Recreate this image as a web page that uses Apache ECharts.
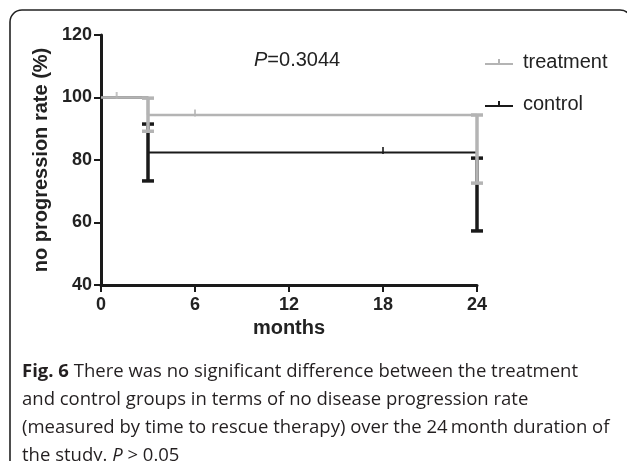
<!DOCTYPE html>
<html>
<head>
<meta charset="utf-8">
<script src="https://cdn.jsdelivr.net/npm/echarts@6/dist/echarts.min.js"></script>
<style>
  html, body { margin: 0; padding: 0; background: #fff; }
  #main { width: 627px; height: 461px; }
</style>
</head>
<body>
<div id="main"></div>
<script>
// step curves: [month, rate]
var treatmentSteps = [[0, 100], [3, 94.4], [24, 94.4]];
var controlSteps = [[0, 100], [3, 82.4], [24, 82.4]];
// censor marks
var treatmentCensor = [[1, 100], [6, 94.4]];
var controlCensor = [[18, 82.4]];
// error bars: [month, low, high]
var treatmentErr = [[3, 89.2, 99.8], [24, 72.6, 94.4]];
var controlErr = [[3, 73.3, 91.5], [24, 57.3, 80.6]];

var xTicks = [0, 6, 12, 18, 24];
var yTicks = [40, 60, 80, 100, 120];

var gray = '#b4b4b4';
var black = '#1a1a1a';

function errRender(color, width) {
    return function (params, api) {
        var x = api.value(0);
        var lo = api.coord([x, api.value(1)]);
        var hi = api.coord([x, api.value(2)]);
        var cap = 6;
        var style = { stroke: color, lineWidth: width };
        return {
            type: 'group',
            children: [
                { type: 'line', shape: { x1: lo[0], y1: lo[1], x2: hi[0], y2: hi[1] }, style: style },
                { type: 'line', shape: { x1: lo[0] - cap, y1: lo[1], x2: lo[0] + cap, y2: lo[1] }, style: style },
                { type: 'line', shape: { x1: hi[0] - cap, y1: hi[1], x2: hi[0] + cap, y2: hi[1] }, style: style }
            ]
        };
    };
}

var legendIcon = 'path://M0,5h28v1.8h-28z M13,1h2v5h-2z';

var option = {
    animation: false,
    grid: { left: 101, right: 150, top: 35, bottom: 176 },
    legend: {
        orient: 'vertical',
        left: 480,
        top: 47,
        itemGap: 22,
        itemWidth: 28,
        itemHeight: 8,
        textStyle: { fontFamily: 'Liberation Sans', fontSize: 20, color: '#222', padding: [0, 0, 0, 5] },
        data: [
            { name: 'treatment', icon: legendIcon, itemStyle: { color: gray } },
            { name: 'control', icon: legendIcon, itemStyle: { color: black } }
        ]
    },
    xAxis: {
        type: 'value',
        min: 0, max: 24, interval: 6,
        name: 'months',
        nameLocation: 'middle',
        nameGap: 32,
        nameTextStyle: { fontFamily: 'Liberation Sans', fontWeight: 'bold', fontSize: 20, color: '#222' },
        splitLine: { show: false },
        axisLine: { lineStyle: { color: black, width: 3 } },
        axisTick: { length: 7, lineStyle: { color: black, width: 2 } },
        axisLabel: {
            fontFamily: 'Liberation Sans', fontWeight: 'bold', fontSize: 18, color: '#222', margin: 11,
            formatter: function (v) { return xTicks.indexOf(v) >= 0 ? String(v) : ''; }
        }
    },
    yAxis: {
        type: 'value',
        min: 40, max: 120, interval: 20,
        name: 'no progression rate (%)',
        nameLocation: 'middle',
        nameGap: 49,
        nameTextStyle: { fontFamily: 'Liberation Sans', fontWeight: 'bold', fontSize: 20, color: '#222' },
        splitLine: { show: false },
        axisLine: { lineStyle: { color: black, width: 3 } },
        axisTick: { length: 7, lineStyle: { color: black, width: 2 } },
        axisLabel: {
            fontFamily: 'Liberation Sans', fontWeight: 'bold', fontSize: 18, color: '#222', margin: 9,
            formatter: function (v) { return yTicks.indexOf(v) >= 0 ? String(v) : ''; }
        }
    },
    graphic: [
        {
            type: 'rect',
            shape: { x: 10, y: 10, width: 622, height: 480, r: 12 },
            style: { fill: 'none', stroke: '#222', lineWidth: 1.6 },
            silent: true
        },
        {
            type: 'text',
            left: 254, top: 50,
            style: {
                text: '{i|P}=0.3044',
                font: '20px "Liberation Sans"',
                fill: '#222',
                rich: { i: { fontStyle: 'italic', fontSize: 20, fontFamily: 'Liberation Sans', fill: '#222' } }
            }
        },
        {
            type: 'text',
            left: 22, top: 358,
            style: {
                text: '{b|Fig. 6} There was no significant difference between the treatment\n' +
                      'and control groups in terms of no disease progression rate\n' +
                      '(measured by time to rescue therapy) over the 24\u2009month duration of\n' +
                      'the study. {i|P} > 0.05',
                fontFamily: 'Open Sans',
                fontSize: 18.5,
                lineHeight: 28,
                fill: '#231f20',
                rich: {
                    b: { fontFamily: 'Open Sans', fontWeight: 'bold', fontSize: 18.5, lineHeight: 28, fill: '#231f20' },
                    i: { fontFamily: 'Open Sans', fontStyle: 'italic', fontSize: 18.5, lineHeight: 28, fill: '#231f20' }
                }
            }
        }
    ],
    series: [
        {
            name: 'control', type: 'line', step: 'end', data: controlSteps,
            symbol: 'none', lineStyle: { color: black, width: 2 }, itemStyle: { color: black }, z: 2
        },
        {
            name: 'controlErr', type: 'custom', data: controlErr,
            renderItem: errRender(black, 3.5), z: 3
        },
        {
            name: 'controlCensor', type: 'scatter', data: controlCensor,
            symbol: 'rect', symbolSize: [2, 7], symbolOffset: [0, -2], itemStyle: { color: black }, z: 3
        },
        {
            name: 'treatment', type: 'line', step: 'end', data: treatmentSteps,
            symbol: 'none', lineStyle: { color: gray, width: 2.5 }, itemStyle: { color: gray }, z: 4
        },
        {
            name: 'treatmentErr', type: 'custom', data: treatmentErr,
            renderItem: errRender(gray, 3.5), z: 5
        },
        {
            name: 'treatmentCensor', type: 'scatter', data: treatmentCensor,
            symbol: 'rect', symbolSize: [2, 7], symbolOffset: [0, -2], itemStyle: { color: gray }, z: 5
        }
    ]
};

echarts.init(document.getElementById('main')).setOption(option);
</script>
</body>
</html>
